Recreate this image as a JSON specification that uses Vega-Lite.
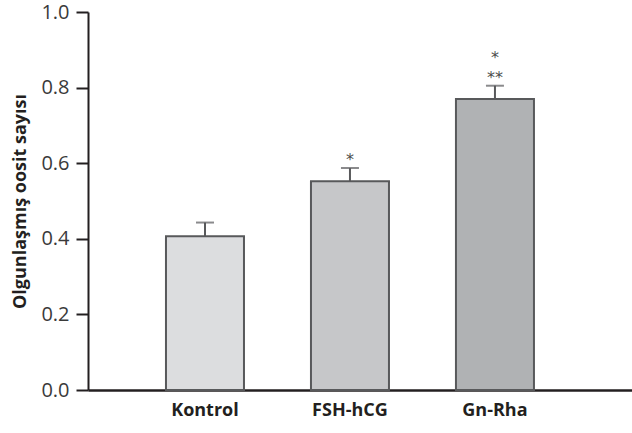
{
  "$schema": "https://vega.github.io/schema/vega-lite/v6.json",
  "width": 544,
  "height": 378,
  "autosize": {"type": "none"},
  "padding": {"left": 88, "top": 12, "right": 0, "bottom": 43},
  "background": "white",
  "config": {"view": {"stroke": null}},
  "data": {
    "values": [
      {"group": "Kontrol", "value": 0.407, "upper": 0.443, "sig1": "", "sig2": ""},
      {"group": "FSH-hCG", "value": 0.552, "upper": 0.587, "sig1": "*", "sig2": ""},
      {"group": "Gn-Rha", "value": 0.770, "upper": 0.805, "sig1": "**", "sig2": "*"}
    ]
  },
  "encoding": {
    "x": {
      "field": "group", "type": "nominal", "sort": null,
      "scale": {"paddingInner": 0.462, "paddingOuter": 0.607, "align": 0.443},
      "axis": {
        "title": null, "labelAngle": 0, "ticks": false, "grid": false,
        "domainColor": "#231f20", "domainWidth": 2.5,
        "labelFont": "Open Sans", "labelFontWeight": "bold", "labelFontSize": 18,
        "labelColor": "#231f20", "labelPadding": 11
      }
    }
  },
  "layer": [
    {
      "mark": {"type": "bar", "stroke": "#58595b", "strokeWidth": 2},
      "encoding": {
        "y": {
          "field": "value", "type": "quantitative",
          "scale": {"domain": [0, 1]},
          "axis": {
            "title": "Olgunlaşmış oosit sayısı",
            "values": [0, 0.2, 0.4, 0.6, 0.8, 1.0], "format": ".1f",
            "grid": false, "tickSize": 12, "tickWidth": 2, "tickColor": "#231f20",
            "domainColor": "#231f20", "domainWidth": 2,
            "labelFont": "Open Sans", "labelFontSize": 20, "labelColor": "#3a3a3a",
            "labelPadding": 7,
            "titleFont": "Open Sans", "titleFontWeight": "bold", "titleFontSize": 18,
            "titleColor": "#231f20", "titlePadding": 11
          }
        },
        "color": {
          "field": "group", "type": "nominal", "sort": null, "legend": null,
          "scale": {"domain": ["Kontrol", "FSH-hCG", "Gn-Rha"], "range": ["#dcdddf", "#c6c7c9", "#b0b2b4"]}
        }
      }
    },
    {
      "mark": {"type": "rule", "color": "#58595b", "strokeWidth": 2},
      "encoding": {
        "y": {"field": "value", "type": "quantitative"},
        "y2": {"field": "upper"}
      }
    },
    {
      "mark": {"type": "tick", "color": "#58595b", "size": 18, "thickness": 2},
      "encoding": {
        "y": {"field": "upper", "type": "quantitative"}
      }
    },
    {
      "mark": {"type": "text", "dy": -3, "baseline": "alphabetic", "font": "DejaVu Sans", "fontSize": 16, "fill": "#4d4d4d"},
      "encoding": {
        "y": {"field": "upper", "type": "quantitative"},
        "text": {"field": "sig1"}
      }
    },
    {
      "mark": {"type": "text", "dy": -23, "baseline": "alphabetic", "font": "DejaVu Sans", "fontSize": 16, "fill": "#4d4d4d"},
      "encoding": {
        "y": {"field": "upper", "type": "quantitative"},
        "text": {"field": "sig2"}
      }
    }
  ]
}
